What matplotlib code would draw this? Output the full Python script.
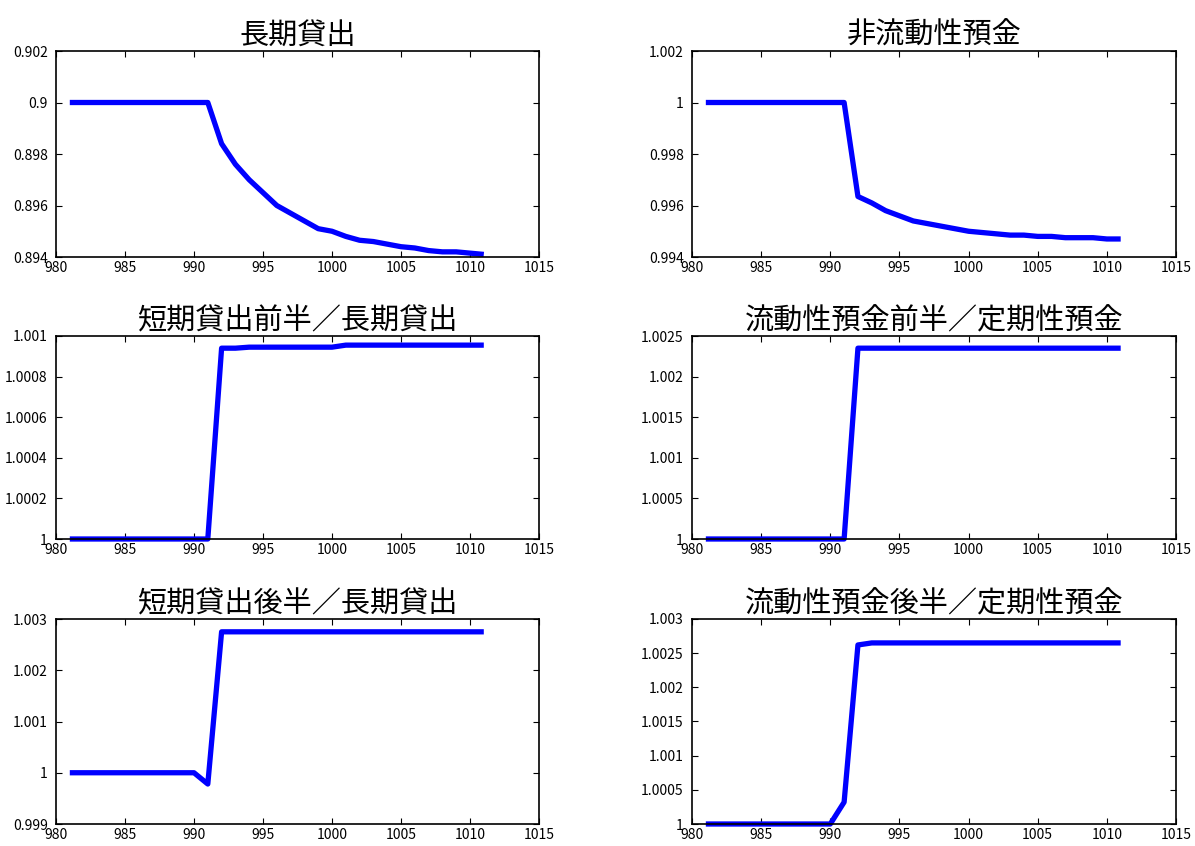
import numpy as np
import matplotlib.pyplot as plt
from matplotlib.ticker import MultipleLocator, FormatStrFormatter

plt.rcParams['font.family'] = ['Noto Sans CJK JP', 'DejaVu Sans']

# 期間
years = list(range(981, 1012))

# 長期貸出
long_loan = [0.9] * 11 + [0.8984, 0.8976, 0.8970, 0.8965, 0.8960, 0.8957, 0.8954, 0.8951,
                          0.8950, 0.8948, 0.89465, 0.8946, 0.8945, 0.8944, 0.89435, 0.89425,
                          0.8942, 0.8942, 0.89415, 0.8941]
# 非流動性預金
illiquid_dep = [1.0] * 11 + [0.99635, 0.9961, 0.9958, 0.9956, 0.9954, 0.9953, 0.9952, 0.9951,
                             0.9950, 0.99495, 0.9949, 0.99485, 0.99485, 0.9948, 0.9948,
                             0.99475, 0.99475, 0.99475, 0.9947, 0.9947]
# 短期貸出前半／長期貸出
short_first = [1.0] * 11 + [1.00094, 1.00094, 1.000945, 1.000945, 1.000945, 1.000945,
                            1.000945, 1.000945, 1.000945, 1.000955, 1.000955, 1.000955,
                            1.000955, 1.000955, 1.000955, 1.000955, 1.000955, 1.000955,
                            1.000955, 1.000955]
# 流動性預金前半／定期性預金
liquid_first = [1.0] * 11 + [1.00235] * 20
# 短期貸出後半／長期貸出
short_second = [1.0] * 10 + [0.99978] + [1.00275] * 20
# 流動性預金後半／定期性預金
liquid_second = [1.0] * 10 + [1.00032, 1.00262] + [1.00265] * 19

titles = ['長期貸出', '非流動性預金',
          '短期貸出前半／長期貸出', '流動性預金前半／定期性預金',
          '短期貸出後半／長期貸出', '流動性預金後半／定期性預金']
series = [long_loan, illiquid_dep, short_first, liquid_first, short_second, liquid_second]
ylims = [(0.894, 0.902), (0.994, 1.002), (1.0, 1.001),
         (1.0, 1.0025), (0.999, 1.003), (1.0, 1.003)]
ysteps = [0.002, 0.002, 0.0002, 0.0005, 0.001, 0.0005]

W, H = 1195, 846
fig = plt.figure(figsize=(W / 100, H / 100), dpi=100)

cols = [(56, 539), (692, 1176)]
rows = [(51, 257), (336, 539), (619, 824)]

def fmt(v, pos):
    s = ('%.4f' % v).rstrip('0').rstrip('.')
    return s

for i, (t, y, yl, st) in enumerate(zip(titles, series, ylims, ysteps)):
    r, c = divmod(i, 2)
    x0, x1 = cols[c]
    y0, y1 = rows[r]
    ax = fig.add_axes([x0 / W, 1 - y1 / H, (x1 - x0) / W, (y1 - y0) / H])
    ax.plot(years, y, color='#0000ff', lw=3.8, clip_on=False, solid_capstyle='butt')
    ax.set_xlim(980, 1015)
    ax.set_ylim(*yl)
    ax.xaxis.set_major_locator(MultipleLocator(5))
    ax.yaxis.set_major_locator(MultipleLocator(st))
    ax.yaxis.set_major_formatter(plt.FuncFormatter(fmt))
    ax.tick_params(direction='in', length=4, width=0.8, top=True, right=True,
                   labelsize=10)
    ax.tick_params(axis='y', pad=6)
    ax.tick_params(axis='x', pad=3)
    for sp in ax.spines.values():
        sp.set_linewidth(1.2)
    ax.set_title(t, fontsize=21, pad=5)

fig.savefig('out.png', dpi=100)
